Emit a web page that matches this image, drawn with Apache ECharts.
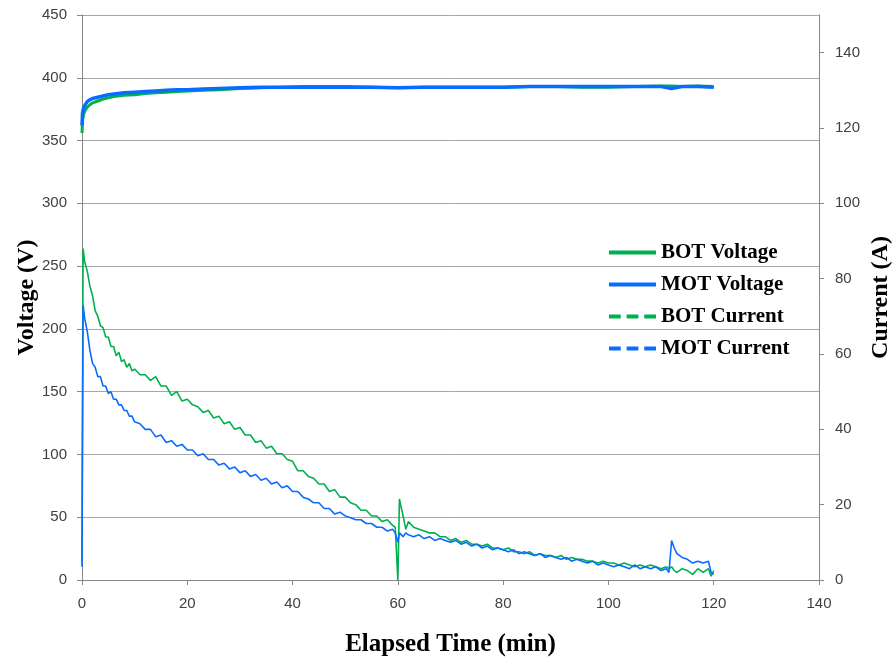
<!DOCTYPE html>
<html><head><meta charset="utf-8">
<script src="https://cdn.jsdelivr.net/npm/echarts@6/dist/echarts.min.js"></script>
<style>html,body{margin:0;padding:0;background:#fff;overflow:hidden}#c{width:895px;height:660px}</style>
</head><body><div id="c"></div>
<script>
var xTicks = [0, 20, 40, 60, 80, 100, 120, 140];
var seriesNames = ['BOT Voltage', 'MOT Voltage', 'BOT Current', 'MOT Current'];

var tVolt = [0, 0.1, 0.3, 0.6, 1, 1.5, 2, 3, 4, 5, 6, 8, 10, 12, 14, 16, 18, 20, 23, 26, 30, 34, 38, 42, 46, 50, 55, 60, 65, 70, 75, 80, 85, 90, 95, 100, 105, 110, 112, 114, 117, 120];
var botVolt = [356, 366, 371, 374, 376.5, 378.5, 380, 381.5, 383, 384, 385, 386, 386.5, 387.5, 388, 388.5, 389, 389.5, 390, 390.5, 391.5, 392, 392.5, 393, 393, 393, 392.5, 392, 392.5, 392.5, 392.5, 392.5, 393, 393, 392.5, 392.5, 393, 393.5, 393.5, 393, 393.5, 393];
var motVolt = [362, 372, 376, 378.5, 381, 382.5, 383.5, 384.5, 385.5, 386.5, 387, 388, 388.5, 389, 389.5, 390, 390.5, 390.5, 391, 391.5, 392, 392.5, 392.5, 392.5, 392.5, 392.5, 392.5, 392, 392.5, 392.5, 392.5, 392.5, 393, 393, 393, 393, 393, 393, 391.5, 393, 393, 392.5];

var tCur = [0, 0.2, 0.5, 1, 1.5, 2, 2.5, 3, 3.5, 4, 4.5, 5, 5.5, 6, 6.5, 7, 7.5, 8, 8.5, 9, 9.5, 10,
  11, 12, 13, 14, 15, 16, 17, 18, 19, 20, 21, 22, 23, 24, 25, 26, 27, 28, 29, 30, 31, 32, 33, 34, 35, 36, 37, 38, 39, 40, 41, 42, 43, 44, 45, 46, 47, 48, 49, 50, 51, 52, 53, 54, 55, 56, 57, 58, 59,
  59.5, 60, 60.3, 60.6, 61, 61.5, 62,
  63, 64, 65, 66, 67, 68, 69, 70, 71, 72, 73, 74, 75, 76, 77, 78, 79, 80, 81, 82, 83, 84, 85, 86, 87, 88, 89, 90, 91, 92, 93, 94, 95, 96, 97, 98, 99, 100, 101, 102, 103, 104, 105, 106, 107, 108, 109, 110, 111,
  111.5, 112, 112.5,
  113, 114, 115, 116, 117, 118, 119, 119.5, 120];
var botCur = [5, 88, 84.5, 82, 78, 75.5, 71.5, 70, 67.5, 67, 64.5, 64.5, 62, 62, 59.5, 60.5, 58, 58.5, 56.5, 57.5, 55.5, 56,
  54.5, 54.5, 53, 54, 51.5, 51.5, 49, 50, 47.5, 48, 46.5, 46, 44.5, 45, 43, 43.5, 41.5, 42, 40, 40.5, 38.5, 38.5, 36.5, 37, 35, 35.5, 33.5, 33.5, 32, 31.5, 29, 29, 27.5, 27, 25.5, 25.5, 23.5, 24, 22, 22, 20.5, 20, 18.5, 18.5, 17, 17, 15.5, 16, 14.5,
  14, 0, 21.5, 19.5, 17, 13.5, 15.5,
  14, 13.5, 13, 12.5, 12.5, 11.5, 11.5, 10.5, 11, 10, 10.5, 9.5, 9.5, 9, 9.5, 8.5, 8.5, 8, 8.5, 7.5, 7.5, 7, 7.5, 6.5, 7, 6.5, 6.5, 6, 6.5, 5.5, 6, 5.5, 5.5, 5, 5, 4.5, 5, 4.5, 4.5, 4, 4.5, 4, 3.5, 4, 3.5, 4, 3.5, 3, 3.5,
  3, 3.5, 2.5,
  2, 3, 2.5, 1.5, 3, 2, 3, 1, 2.5];
var motCur = [3.5, 73, 69.5, 66, 61, 57.5, 56.5, 54, 54, 51.5, 51.5, 49.5, 50, 48, 48, 46.5, 46.5, 45, 45, 43.5, 43.5, 42,
  41.5, 40, 40, 38, 38.5, 36.5, 37, 35.5, 36, 34.5, 34.5, 33, 33.5, 32, 32, 30.5, 31, 29.5, 30, 28.5, 29, 27.5, 28, 26.5, 27, 25.5, 26, 24.5, 25, 23.5, 23.5, 22, 21.5, 20.5, 20.5, 19, 19, 17.5, 18, 17, 16.5, 16, 16, 15, 15, 14, 14, 13, 13.5,
  12.5, 10, 12.5, 12, 11.5, 12.5, 12,
  11.5, 12, 11, 11.5, 10.5, 11, 10.5, 10, 10.5, 9.5, 10, 9, 9.5, 8.5, 9, 8, 8.5, 8, 7.5, 8, 7, 7.5, 7, 6.5, 7, 6, 6.5, 6, 5.5, 6, 5, 5.5, 5, 4.5, 5, 4, 4.5, 4, 3.5, 4, 3.5, 3, 4, 3, 3.5, 3, 3.5, 2.5, 3,
  2, 10.5, 8.5,
  7, 6, 5.5, 4.5, 5, 4.5, 5, 2, 1.5];

function pairs(t, v) { return t.map(function (x, i) { return [x, v[i]]; }); }

var GREEN = '#00B050', BLUE = '#0A6CFF';
var AXC = '#868686', GRID = '#A6A6A6';
var labelFont = { fontFamily: 'Liberation Sans', fontSize: 15, color: '#404040' };
var nameFontY = { fontFamily: 'Liberation Serif', fontSize: 24, fontWeight: 'bold', color: '#000' };
var nameFontX = { fontFamily: 'Liberation Serif', fontSize: 25, fontWeight: 'bold', color: '#000' };
var DASH_ICON = 'path://M0,0h12v4h-12z M18,0h12v4h-12z M36,0h12v4h-12z';

var chart = echarts.init(document.getElementById('c'), null, { renderer: 'canvas' });
chart.setOption({
  animation: false,
  backgroundColor: '#fff',
  grid: { left: 82, right: 76, top: 15, bottom: 80, containLabel: false, outerBoundsMode: 'none' },
  legend: {
    orient: 'vertical', left: 609, top: 242, padding: 0,
    itemWidth: 47, itemHeight: 4, itemGap: 11,
    textStyle: { fontFamily: 'Liberation Serif', fontSize: 21, fontWeight: 'bold', color: '#000' },
    data: [
      { name: seriesNames[0], icon: 'rect' },
      { name: seriesNames[1], icon: 'rect' },
      { name: seriesNames[2], icon: DASH_ICON },
      { name: seriesNames[3], icon: DASH_ICON }
    ]
  },
  xAxis: {
    type: 'value', min: xTicks[0], max: xTicks[xTicks.length - 1], interval: 20,
    name: 'Elapsed Time (min)', nameLocation: 'middle', nameGap: 52, nameTextStyle: nameFontX, nameMoveOverlap: false,
    axisLine: { show: true, lineStyle: { color: AXC } },
    axisTick: { show: true, length: 5, lineStyle: { color: AXC } },
    axisLabel: Object.assign({ margin: 16 }, labelFont),
    splitLine: { show: false }
  },
  yAxis: [{
    type: 'value', min: 0, max: 450, interval: 50, position: 'left',
    name: 'Voltage (V)', nameLocation: 'middle', nameGap: 43, nameRotate: 90, nameTextStyle: nameFontY, nameMoveOverlap: false,
    axisLine: { show: true, lineStyle: { color: AXC } },
    axisTick: { show: true, length: 5, lineStyle: { color: AXC } },
    axisLabel: Object.assign({ margin: 15 }, labelFont),
    splitLine: { show: true, lineStyle: { color: GRID, width: 1 } }
  }, {
    type: 'value', min: 0, max: 150, interval: 20, position: 'right',
    name: 'Current (A)', nameLocation: 'middle', nameGap: 50, nameRotate: 90, nameTextStyle: nameFontY, nameMoveOverlap: false,
    axisLine: { show: true, lineStyle: { color: AXC } },
    axisTick: { show: true, length: 5, lineStyle: { color: AXC } },
    axisLabel: Object.assign({ margin: 16, showMaxLabel: false }, labelFont),
    splitLine: { show: false }
  }],
  series: [
    { name: seriesNames[0], type: 'line', yAxisIndex: 0, symbol: 'none', data: pairs(tVolt, botVolt),
      lineStyle: { color: GREEN, width: 3 }, itemStyle: { color: GREEN } },
    { name: seriesNames[1], type: 'line', yAxisIndex: 0, symbol: 'none', data: pairs(tVolt, motVolt),
      lineStyle: { color: BLUE, width: 3.5 }, itemStyle: { color: BLUE } },
    { name: seriesNames[2], type: 'line', yAxisIndex: 1, symbol: 'none', data: pairs(tCur, botCur),
      lineStyle: { color: GREEN, width: 1.6 }, itemStyle: { color: GREEN } },
    { name: seriesNames[3], type: 'line', yAxisIndex: 1, symbol: 'none', data: pairs(tCur, motCur),
      lineStyle: { color: BLUE, width: 1.6 }, itemStyle: { color: BLUE } }
  ]
});
</script>
</body></html>
